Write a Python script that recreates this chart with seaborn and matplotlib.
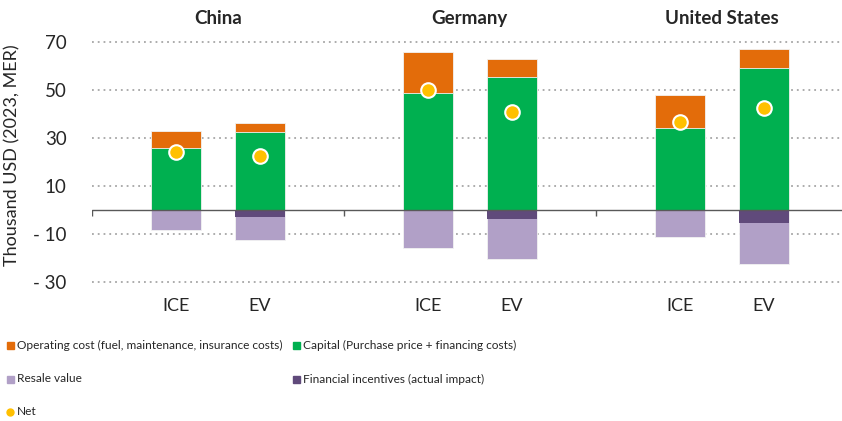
import numpy as np
import pandas as pd
import matplotlib.pyplot as plt
import seaborn as sns
from matplotlib.lines import Line2D

# data (thousand USD, 2023 MER)
countries = ['China', 'Germany', 'United States']
vehicles = ['ICE', 'EV', 'ICE', 'EV', 'ICE', 'EV']
capital = [26.0, 32.6, 48.9, 55.3, 34.3, 59.3]
operating = [6.8, 3.5, 17.1, 7.5, 13.6, 7.8]
incentives = [0.0, -2.9, 0.0, -3.75, 0.0, -5.4]
resale = [-8.3, -9.5, -16.0, -16.55, -11.1, -17.2]
net = [24.3, 22.6, 49.9, 40.8, 36.8, 42.4]

legend_names = ['Operating cost (fuel, maintenance, insurance costs)',
                'Capital (Purchase price + financing costs)',
                'Resale value', 'Financial incentives (actual impact)', 'Net']

c_oper = '#E36C0A'
c_cap = '#00B050'
c_resale = '#B1A0C7'
c_inc = '#604A7B'
c_net = '#FFC000'

sns.set_theme(style='white')
plt.rcParams['font.family'] = ['Lato', 'DejaVu Sans']

pos = [1, 2, 4, 5, 7, 8]
df = pd.DataFrame({'x': pos, 'vehicle': vehicles, 'capital': capital,
                   'operating': operating, 'incentives': incentives,
                   'resale': resale, 'net': net})
df['pos_total'] = df['capital'] + df['operating']
df['neg_total'] = df['incentives'] + df['resale']

fig = plt.figure(figsize=(8.42, 4.21), dpi=100)
ax = fig.add_axes([0.109, 0.3188, 0.891, 0.627])

bw = 0.59
edge = dict(edgecolor='#F2F2F2', linewidth=0.6)
sns.barplot(data=df, x='x', y='pos_total', native_scale=True, color=c_oper,
            width=bw, errorbar=None, saturation=1, ax=ax, **edge)
sns.barplot(data=df, x='x', y='capital', native_scale=True, color=c_cap,
            width=bw, errorbar=None, saturation=1, ax=ax, **edge)
sns.barplot(data=df, x='x', y='neg_total', native_scale=True, color=c_resale,
            width=bw, errorbar=None, saturation=1, ax=ax, **edge)
sns.barplot(data=df, x='x', y='incentives', native_scale=True, color=c_inc,
            width=bw, errorbar=None, saturation=1, ax=ax, linewidth=0)
sns.scatterplot(data=df, x='x', y='net', color=c_net, s=110, edgecolor='white',
                linewidth=1.5, zorder=5, ax=ax)

ax.set_xlim(0, 8.93)
ax.set_ylim(-32, 78)
ticks = [70, 50, 30, 10, -10, -30]
ax.set_yticks(ticks)
ax.set_yticklabels([str(t) if t > 0 else '- ' + str(-t) for t in ticks], fontsize=13.5)
for t in ticks:
    ax.axhline(t, color='#A6A6A6', linestyle=(0, (1, 2.2)), linewidth=1.3, zorder=0)
ax.axhline(0, color='#595959', linewidth=1, zorder=4)
ax.vlines([0, 3, 6], -2.5, 0, color='#595959', linewidth=1, zorder=4)

ax.set_xticks(pos)
ax.set_xticklabels(vehicles, fontsize=13)
ax.tick_params(axis='both', length=0)
ax.tick_params(axis='y', pad=18)
ax.tick_params(axis='x', pad=8)
ax.set_xlabel('')
ax.set_ylabel('Thousand USD (2023, MER)', fontsize=13)
ax.yaxis.set_label_coords(-0.095, 0.5)
for s in ax.spines.values():
    s.set_visible(False)

for i, c in enumerate(countries):
    ax.text(1.5 + 3 * i, 80, c, ha='center', va='center', fontsize=13.5,
            fontweight='bold', clip_on=False)

# legend drawn by hand in two columns, like the original
leg_colors = [c_oper, c_cap, c_resale, c_inc, c_net]
cols = [0.008, 0.348, 0.008, 0.348, 0.008]
rows = [0.1805, 0.1805, 0.0998, 0.0998, 0.0214]
for n, col, cx, cy in zip(legend_names, leg_colors, cols, rows):
    if n != 'Net':
        fig.patches.append(plt.Rectangle((cx, cy - 0.009), 0.0085, 0.017, color=col,
                                         transform=fig.transFigure, figure=fig))
    else:
        fig.lines.append(Line2D([cx + 0.0042], [cy], marker='o', color=col, markersize=5,
                                linestyle='none', transform=fig.transFigure, figure=fig))
    fig.text(cx + 0.012, cy, n, ha='left', va='center', fontsize=8.6)

fig.savefig('out.png', dpi=100)
